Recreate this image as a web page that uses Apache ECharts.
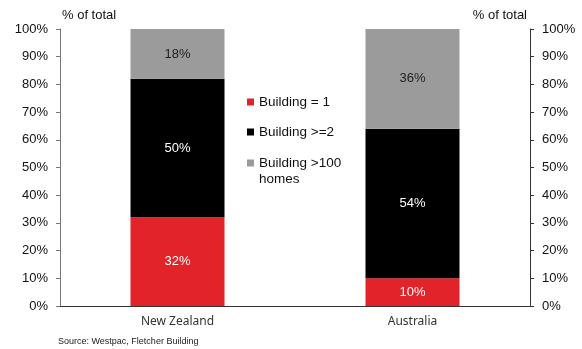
<!DOCTYPE html>
<html>
<head>
<meta charset="utf-8">
<script src="https://cdn.jsdelivr.net/npm/echarts@6/dist/echarts.min.js"></script>
<style>
  html, body { margin: 0; padding: 0; background: #fff; }
  #chart { width: 582px; height: 349px; }
</style>
</head>
<body>
<div id="chart"></div>
<script>
// data
var categories = ['New Zealand', 'Australia'];
var seriesNames = ['Building = 1', 'Building >=2', 'Building >100 homes'];
var single = [32, 10];
var multi = [50, 54];
var large = [18, 36];
var yTicks = [0, 100, 10]; // min, max, step

var myChart = echarts.init(document.getElementById('chart'));
var font = 'Liberation Sans, Arial, sans-serif';

function barSeries(name, data, color, labelColor) {
  return {
    name: name,
    type: 'bar',
    stack: 'total',
    barWidth: '40%',
    data: data,
    itemStyle: { color: color },
    label: {
      show: true,
      position: 'inside',
      formatter: '{c}%',
      color: labelColor,
      fontFamily: font,
      fontSize: 13
    }
  };
}

var legendText = { fontFamily: font, fontSize: 13.5, color: '#111' };

var option = {
  animation: false,
  backgroundColor: '#fff',
  title: [
    { text: '% of total', left: 62, top: 9, padding: 0,
      textStyle: { fontFamily: font, fontSize: 13, fontWeight: 'normal', color: '#111' } },
    { text: '% of total', right: 55, top: 9, padding: 0,
      textStyle: { fontFamily: font, fontSize: 13, fontWeight: 'normal', color: '#111' } },
    { text: 'Source: Westpac, Fletcher Building', left: 58, top: 337, padding: 0,
      textStyle: { fontFamily: font, fontSize: 9, fontWeight: 'normal', color: '#222' } }
  ],
  legend: [
    { data: [seriesNames[0]], orient: 'vertical', left: 247, top: 95, padding: 0,
      itemWidth: 7, itemHeight: 7, icon: 'rect', selectedMode: false, textStyle: legendText },
    { data: [seriesNames[1]], orient: 'vertical', left: 247, top: 125, padding: 0,
      itemWidth: 7, itemHeight: 7, icon: 'rect', selectedMode: false, textStyle: legendText },
    // blank first line keeps the icon level with "Building >100"
    { data: [seriesNames[2]], orient: 'vertical', left: 247, top: 139, padding: 0,
      itemWidth: 7, itemHeight: 7, icon: 'rect', selectedMode: false,
      formatter: function () { return ' \nBuilding >100\nhomes'; },
      textStyle: Object.assign({ lineHeight: 16 }, legendText) }
  ],
  grid: { left: 60, right: 52, top: 29, bottom: 43 },
  xAxis: {
    type: 'category',
    data: categories,
    axisLine: { show: true, lineStyle: { color: '#333', width: 1 } },
    axisTick: { show: false },
    axisLabel: { margin: 10, fontFamily: 'Noto Sans, sans-serif', fontSize: 12, color: '#333' }
  },
  yAxis: [
    {
      type: 'value', min: yTicks[0], max: yTicks[1], interval: yTicks[2],
      position: 'left',
      axisLine: { show: true, lineStyle: { color: '#777' } },
      axisTick: { show: true, inside: false, length: 4, lineStyle: { color: '#777' } },
      splitLine: { show: false },
      axisLabel: { formatter: '{value}%', margin: 12, fontFamily: font, fontSize: 13, color: '#111' }
    },
    {
      type: 'value', min: yTicks[0], max: yTicks[1], interval: yTicks[2],
      position: 'right',
      axisLine: { show: true, lineStyle: { color: '#333' } },
      axisTick: { show: true, inside: false, length: 4, lineStyle: { color: '#333' } },
      splitLine: { show: false },
      axisLabel: { formatter: '{value}%', margin: 12, fontFamily: font, fontSize: 13, color: '#111' }
    }
  ],
  series: [
    barSeries(seriesNames[0], single, '#e2232a', '#fff'),
    barSeries(seriesNames[1], multi, '#000000', '#fff'),
    barSeries(seriesNames[2], large, '#9b9b9b', '#222')
  ]
};

myChart.setOption(option);
</script>
</body>
</html>
